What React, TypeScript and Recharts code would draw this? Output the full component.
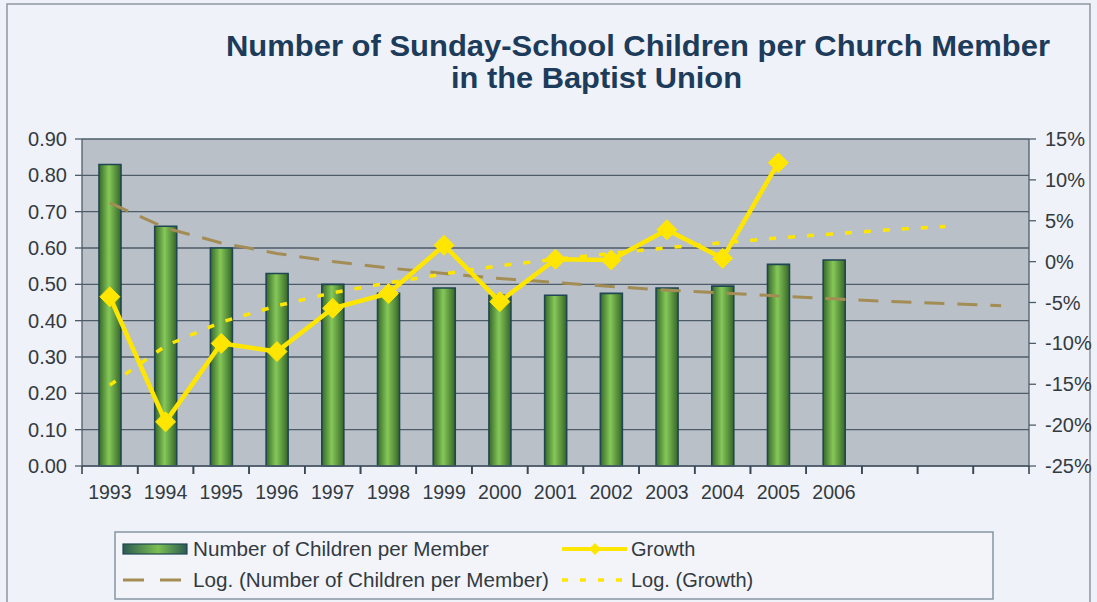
import React from 'react';
import {
  ComposedChart, Bar, Line, XAxis, YAxis, CartesianGrid,
} from 'recharts';

// ---- data ----
const years = ['1993', '1994', '1995', '1996', '1997', '1998', '1999', '2000', '2001', '2002', '2003', '2004', '2005', '2006'];
const forecastSlots = ['2007', '2008', '2009'];
const childrenPerMember = [0.83, 0.66, 0.60, 0.53, 0.50, 0.475, 0.49, 0.47, 0.47, 0.475, 0.49, 0.495, 0.555, 0.567];
const growthPct = [-4.3, -19.6, -10.0, -11.0, -5.7, -3.9, 2.0, -4.9, 0.3, 0.2, 3.9, 0.4, 12.1];
const childrenLogTrend = [0.724, 0.655, 0.614, 0.585, 0.563, 0.545, 0.530, 0.516, 0.505, 0.494, 0.484, 0.476, 0.468, 0.460, 0.453, 0.447, 0.441];
const growthLogTrend = [-15.1, -10.3, -7.4, -5.4, -3.8, -2.6, -1.5, -0.5, 0.3, 1.0, 1.7, 2.3, 2.9, 3.4, 3.9, 4.3];
const leftTicks = [0, 0.1, 0.2, 0.3, 0.4, 0.5, 0.6, 0.7, 0.8, 0.9];
const rightTicks = [-25, -20, -15, -10, -5, 0, 5, 10, 15];

const categories = [...years, ...forecastSlots];
const data = categories.map((c, i) => ({
  year: c,
  children: i < childrenPerMember.length ? childrenPerMember[i] : null,
  growth: i < growthPct.length ? growthPct[i] : null,
  childrenTrend: i < childrenLogTrend.length ? childrenLogTrend[i] : null,
  growthTrend: i < growthLogTrend.length ? growthLogTrend[i] : null,
}));

const FONT = '"Liberation Sans", Arial, Helvetica, sans-serif';
const YELLOW = '#ffe600';
const TAN = '#a38d55';
const GRID = '#4e5c6a';
const TICK = '#3a4754';
const TEXT = '#333a40';
const X_TICK_MARGIN = 19;
const X_TICK_LEN = 8;

const Diamond = (props: any) => {
  const { cx, cy, index } = props;
  if (cx == null || cy == null || props.value == null || Number.isNaN(cy)) return <g key={`d${index}`} />;
  const r = 10;
  return (
    <path
      key={`d${index}`}
      d={`M${cx},${cy - r}L${cx + r},${cy}L${cx},${cy + r}L${cx - r},${cy}Z`}
      fill={YELLOW}
      stroke={YELLOW}
      strokeWidth={1}
    />
  );
};

// category tick: label at the band centre plus tick marks at both band edges
// (half band = axis width / number of categories / 2)
const XTick = (props: any) => {
  const { x, y, payload, index, width } = props;
  const half = width ? width / categories.length / 2 : (payload && payload.offset ? payload.offset : 0);
  const axisY = y - X_TICK_MARGIN;
  const label = index < years.length ? String(payload.value) : '';
  const left = x - half;
  const right = x + half;
  return (
    <g>
      <path
        d={`M${left},${axisY}V${axisY + X_TICK_LEN}M${right},${axisY}V${axisY + X_TICK_LEN}`}
        stroke={TICK}
        strokeWidth={1.6}
        fill="none"
      />
      <text x={x} y={y} dy="0.71em" textAnchor="middle" fill={TEXT} fontSize={19.5} fontFamily={FONT}>
        {label}
      </text>
    </g>
  );
};

export default function App() {
  return (
    <div
      style={{
        position: 'absolute', left: 0, top: 0, width: 1097, height: 602,
        background: '#eef2f8', overflow: 'hidden', fontFamily: FONT,
      }}
    >
      <svg width={1097} height={602} style={{ position: 'absolute', left: 0, top: 0 }}>
        <rect x={7} y={4} width={1083} height={640} fill="#eff2f8" stroke="#8f969e" strokeWidth={1.5} />
      </svg>
      <div style={{ position: 'absolute', left: 0, top: 0 }}>
        <ComposedChart
          width={1097}
          height={602}
          data={data}
          margin={{ top: 139, right: 0, bottom: 106, left: 0 }}
        >
          <defs>
            <linearGradient id="barGrad" x1="0" y1="0" x2="1" y2="0">
              <stop offset="0%" stopColor="#36682a" />
              <stop offset="45%" stopColor="#86c858" />
              <stop offset="100%" stopColor="#356628" />
            </linearGradient>
          </defs>
          <CartesianGrid
            xAxisId="cat"
            yAxisId="left"
            vertical={false}
            horizontal
            fill="#b9c0c8"
            fillOpacity={1}
            stroke={GRID}
            strokeWidth={1.3}
          />
          <Bar
            xAxisId="cat"
            yAxisId="left"
            dataKey="children"
            barSize={22}
            fill="url(#barGrad)"
            stroke="#1f4652"
            strokeWidth={1.6}
            isAnimationActive={false}
          />
          <Line
            xAxisId="cat"
            yAxisId="left"
            dataKey="childrenTrend"
            type="linear"
            stroke={TAN}
            strokeWidth={3}
            strokeDasharray="20 13"
            dot={false}
            activeDot={false}
            isAnimationActive={false}
          />
          <Line
            xAxisId="cat"
            yAxisId="right"
            dataKey="growthTrend"
            type="linear"
            stroke={YELLOW}
            strokeWidth={3.5}
            strokeDasharray="7 12"
            dot={false}
            activeDot={false}
            isAnimationActive={false}
          />
          <Line
            xAxisId="cat"
            yAxisId="right"
            dataKey="growth"
            type="linear"
            stroke={YELLOW}
            strokeWidth={4.5}
            dot={Diamond}
            activeDot={false}
            isAnimationActive={false}
          />
          <XAxis
            xAxisId="cat"
            dataKey="year"
            height={30}
            tickSize={0}
            tickMargin={X_TICK_MARGIN}
            axisLine={{ stroke: GRID, strokeWidth: 1.3 }}
            tickLine={false}
            interval={0}
            tick={<XTick />}
          />
          <YAxis
            yAxisId="left"
            orientation="left"
            width={82}
            domain={[0, 0.9]}
            ticks={leftTicks}
            interval={0}
            tickFormatter={(v: number) => v.toFixed(2)}
            tickSize={7}
            tickMargin={8}
            axisLine={{ stroke: GRID, strokeWidth: 1.3 }}
            tickLine={{ stroke: GRID, strokeWidth: 1.3 }}
            tick={{ fill: TEXT, fontSize: 20, fontFamily: FONT }}
          />
          <YAxis
            yAxisId="right"
            orientation="right"
            width={68}
            domain={[-25, 15]}
            ticks={rightTicks}
            interval={0}
            tickFormatter={(v: number) => `${v}%`}
            tickSize={7}
            tickMargin={9}
            axisLine={{ stroke: GRID, strokeWidth: 1.3 }}
            tickLine={{ stroke: GRID, strokeWidth: 1.3 }}
            tick={{ fill: TEXT, fontSize: 20, fontFamily: FONT }}
          />
        </ComposedChart>
      </div>
      <svg width={1097} height={602} style={{ position: 'absolute', left: 0, top: 0, pointerEvents: 'none' }}>
        <defs>
          <linearGradient id="legGrad" x1="0" y1="0" x2="1" y2="0">
            <stop offset="0%" stopColor="#2c5a52" />
            <stop offset="55%" stopColor="#7cbf52" />
            <stop offset="100%" stopColor="#2c5a52" />
          </linearGradient>
        </defs>
        <text x={226} y={56} fontFamily={FONT} fontWeight="bold" fontSize={30} fill="#1d3b5a"
          textLength={824} lengthAdjust="spacingAndGlyphs">
          Number of Sunday-School Children per Church Member
        </text>
        <text x={451} y={88} fontFamily={FONT} fontWeight="bold" fontSize={30} fill="#1d3b5a"
          textLength={291} lengthAdjust="spacingAndGlyphs">
          in the Baptist Union
        </text>

        <rect x={115} y={532} width={878} height={67} fill="#f2f4f9" stroke="#8796a4" strokeWidth={1.5} />
        <rect x={123} y={544} width={64} height={10} fill="url(#legGrad)" stroke="#1f4652" strokeWidth={1.2} />
        <text x={193} y={556} fontFamily={FONT} fontSize={20} fill={TEXT} textLength={296} lengthAdjust="spacingAndGlyphs">
          Number of Children per Member
        </text>
        <line x1={562} y1={549} x2={627} y2={549} stroke={YELLOW} strokeWidth={4} />
        <path d="M595,543L601,549L595,555L589,549Z" fill={YELLOW} />
        <text x={631} y={556} fontFamily={FONT} fontSize={20} fill={TEXT}>
          Growth
        </text>
        <line x1={123} y1={580} x2={182} y2={580} stroke={TAN} strokeWidth={3} strokeDasharray="21 16" />
        <text x={193} y={587} fontFamily={FONT} fontSize={20} fill={TEXT} textLength={356} lengthAdjust="spacingAndGlyphs">
          Log. (Number of Children per Member)
        </text>
        <line x1={562} y1={580} x2={627} y2={580} stroke={YELLOW} strokeWidth={3.5} strokeDasharray="6 12" />
        <text x={631} y={587} fontFamily={FONT} fontSize={20} fill={TEXT}>
          Log. (Growth)
        </text>
      </svg>
    </div>
  );
}
